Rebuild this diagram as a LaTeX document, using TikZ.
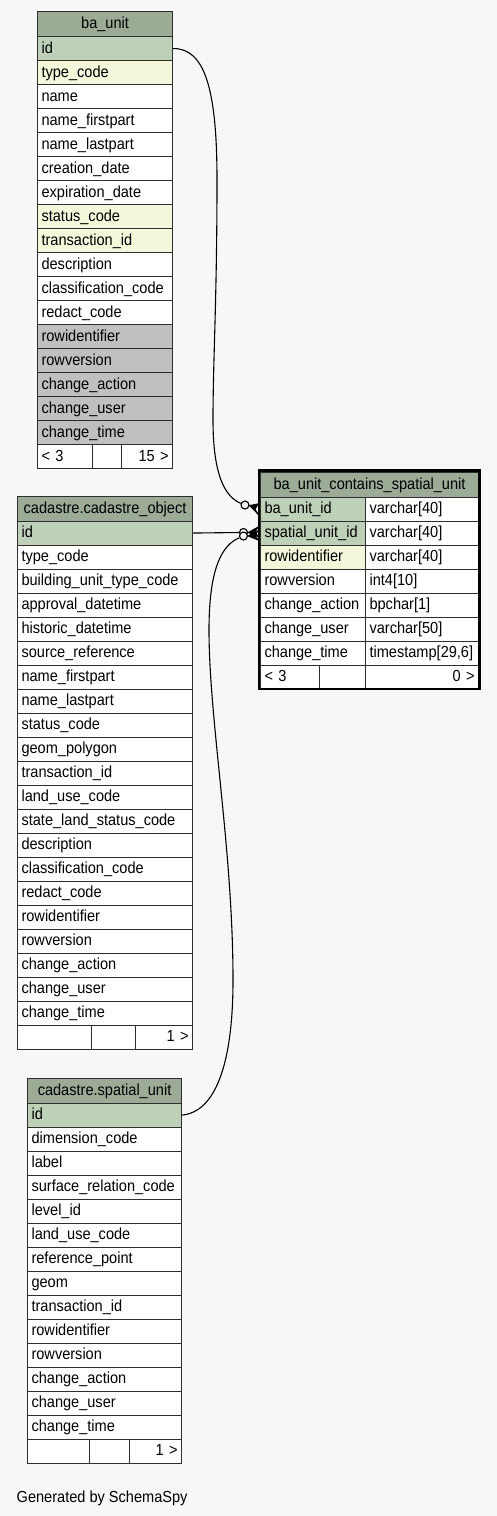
\documentclass[tikz,border=0pt]{standalone}
\usepackage{fontspec}
\setmainfont[FakeStretch=0.91]{Liberation Sans}
\usetikzlibrary{calc}
\definecolor{bg}{HTML}{F7F7F7}
\definecolor{hd}{HTML}{9BAB96}
\definecolor{pk}{HTML}{BED1B8}
\definecolor{fk}{HTML}{F4F7DA}
\definecolor{gr}{HTML}{C0C0C0}
\definecolor{wh}{HTML}{FFFFFF}
\definecolor{ln}{HTML}{2E2E2E}
\newcommand\tabfont{\fontsize{16}{18}\selectfont}
\begin{document}
\begin{tikzpicture}[x=1pt,y=-1pt,
  cell/.style={draw=ln, line width=1.1pt, rectangle, inner xsep=4pt, inner ysep=0pt,
    minimum height=24pt, text height=12pt, text depth=3pt, anchor=north west,
    align=left, font=\tabfont, fill=wh},
  hdr/.style={cell, fill=hd, align=center, minimum height=25pt},
  conn/.style={draw=black, line width=1.1pt},
  odot/.style={circle, draw=black, line width=1.1pt, fill=bg, minimum size=8pt, inner sep=0pt},
  crowfill/.style={fill=black, draw=black, line width=0.8pt, line join=miter}
]
\path[use as bounding box, fill=bg] (0,0) rectangle (497,1516);

% ---------------- ba_unit ----------------
\node[hdr, text width=127pt] (bu) at (37,11) {ba\_unit};
\foreach \n/\f/\t [count=\i from 0] in {id/pk/id, type/fk/type\_code, name/wh/name,
  nfp/wh/name\_firstpart, nlp/wh/name\_lastpart, cd/wh/creation\_date,
  ed/wh/expiration\_date, sc/fk/status\_code, tid/fk/transaction\_id,
  desc/wh/description, cc/wh/classification\_code, rc/wh/redact\_code,
  rid/gr/rowidentifier, rv/gr/rowversion, ca/gr/change\_action,
  cu/gr/change\_user, ct/gr/change\_time}
  \node[cell, fill=\f, text width=127pt] (bu-\n) at (37,{36+24*\i}) {\t};
\node[cell, text width=46.7pt] (bu-f1) at (37,444) {< 3};
\node[cell, text width=21.3pt] (bu-f2) at (91.7,444) {};
\node[cell, text width=43pt, align=right] (bu-f3) at (121,444) {15 >};

% ---------------- cadastre.cadastre_object ----------------
\node[hdr, text width=167pt] (co) at (17,495.5) {cadastre.cadastre\_object};
\foreach \n/\f/\t [count=\i from 0] in {id/pk/id, type/wh/type\_code,
  but/wh/building\_unit\_type\_code, ad/wh/approval\_datetime,
  hd/wh/historic\_datetime, sr/wh/source\_reference, nfp/wh/name\_firstpart,
  nlp/wh/name\_lastpart, sc/wh/status\_code, gp/wh/geom\_polygon,
  tid/wh/transaction\_id, luc/wh/land\_use\_code,
  sls/wh/state\_land\_status\_code, desc/wh/description,
  cc/wh/classification\_code, rc/wh/redact\_code, rid/wh/rowidentifier,
  rv/wh/rowversion, ca/wh/change\_action, cu/wh/change\_user,
  ct/wh/change\_time}
  \node[cell, fill=\f, text width=167pt] (co-\n) at (17,{520.5+24*\i}) {\t};
\node[cell, text width=65.7pt] (co-f1) at (17,1024.5) {};
\node[cell, text width=36pt] (co-f2) at (90.7,1024.5) {};
\node[cell, text width=49.3pt, align=right] (co-f3) at (134.7,1024.5) {1 >};

% ---------------- cadastre.spatial_unit ----------------
\node[hdr, text width=146pt] (su) at (27,1077.5) {cadastre.spatial\_unit};
\foreach \n/\f/\t [count=\i from 0] in {id/pk/id, dc/wh/dimension\_code,
  label/wh/label, src/wh/surface\_relation\_code, lid/wh/level\_id,
  luc/wh/land\_use\_code, rp/wh/reference\_point, geom/wh/geom,
  tid/wh/transaction\_id, rid/wh/rowidentifier, rv/wh/rowversion,
  ca/wh/change\_action, cu/wh/change\_user, ct/wh/change\_time}
  \node[cell, fill=\f, text width=146pt] (su-\n) at (27,{1102.5+24*\i}) {\t};
\node[cell, text width=54.3pt] (su-f1) at (27,1438.5) {};
\node[cell, text width=31.7pt] (su-f2) at (89.3,1438.5) {};
\node[cell, text width=44pt, align=right] (su-f3) at (129,1438.5) {1 >};

% ---------------- ba_unit_contains_spatial_unit ----------------
\node[hdr, text width=210pt, minimum height=25.2pt] (cb) at (260,471.5) {ba\_unit\_contains\_spatial\_unit};
\foreach \n/\f/\t/\ty [count=\i from 0] in {bu/pk/ba\_unit\_id/varchar[40],
  su/pk/spatial\_unit\_id/varchar[40], rid/fk/rowidentifier/varchar[40],
  rv/wh/rowversion/int4[10], ca/wh/change\_action/bpchar[1],
  cu/wh/change\_user/varchar[50], ct/wh/change\_time/{timestamp[29,6]}}
{
  \node[cell, fill=\f, text width=97pt] (cb-\n) at (260,{496.7+24*\i}) {\t};
  \node[cell, text width=105pt] (cbt-\n) at (365,{496.7+24*\i}) {\ty};
}
\node[cell, text width=50.7pt] (cb-f1) at (260,664.7) {< 3};
\node[cell, text width=38.3pt] (cb-f2) at (318.7,664.7) {};
\node[cell, text width=105pt, align=right] (cb-f3) at (365,664.7) {0 >};
\draw[draw=black, line width=2.4pt] (258.9,470.5) rectangle (479.5,688.9);

% ---------------- connectors ----------------
\node[odot] (o1) at (245,505) {};
\node[odot] (o2) at (243.5,532.5) {};
\node[odot] (o3) at (243.5,536) {};

\draw[conn] (bu-id.east) .. controls (205,48) and (217,90) .. (217,180)
  .. controls (217,300) and (213,360) .. (213,420)
  .. controls (213,475) and (225,497) .. (o1);
\draw[conn] (co-id.east) -- (o2.west);
\draw[conn] (su-id.east) .. controls (215,1112) and (233,1065) .. (233,980)
  .. controls (233,850) and (209,720) .. (209,630)
  .. controls (209,568) and (222,545) .. (o3);

% crow's feet
\coordinate (k1) at ($(cb-bu.west)+(-1.5,0)$);
\fill[crowfill] ($(o1.east)+(0,0.5)$) -- ($(k1)+(0,-5.5)$) -- ($(k1)+(-3.5,0)$) -- ($(k1)+(0,5.5)$) -- cycle;
\coordinate (k2) at ($(cb-su.west)+(-1.5,-1.5)$);
\fill[crowfill] (o2.east) -- ($(k2)+(0,-5)$) -- ($(k2)+(-3.5,0)$) -- ($(k2)+(0,5)$) -- cycle;
\coordinate (k3) at ($(cb-su.west)+(-1.5,2)$);
\fill[crowfill] (o3.east) -- ($(k3)+(0,-5)$) -- ($(k3)+(-3.5,0)$) -- ($(k3)+(0,5)$) -- cycle;

% footer text
\node[anchor=west, font=\tabfont, inner sep=0pt] (gen) at (16.5,1498) {Generated by SchemaSpy};
\end{tikzpicture}
\end{document}
